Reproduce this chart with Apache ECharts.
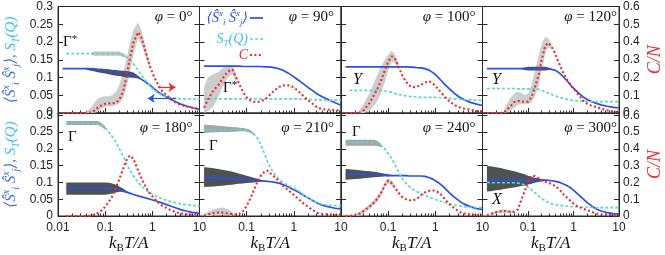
<!DOCTYPE html>
<html><head><meta charset="utf-8">
<script src="https://cdn.jsdelivr.net/npm/echarts@6/dist/echarts.min.js"></script>
<style>html,body{margin:0;padding:0;background:#fff}#c{width:665px;height:255px}</style>
</head><body><div id="c"></div>
<script>
// temperature grid k_B T / A
const T = [0.0125,0.015,0.02,0.025,0.03,0.04,0.05,0.06,0.07,0.085,0.1,0.12,0.14,0.17,0.2,0.24,0.28,0.33,0.4,0.5,0.6,0.75,0.9,1.1,1.3,1.6,2,2.5,3.2,4,5.5,7.5,10];
const phiLabels = [0, 90, 100, 120, 180, 210, 240, 300];

// ---- phi = 0
const blue0 = [0.125,0.125,0.125,0.125,0.125,0.125,0.125,0.124,0.123,0.122,0.121,0.119,0.118,0.116,0.114,0.112,0.110,0.108,0.105,0.100,0.094,0.086,0.078,0.068,0.060,0.052,0.045,0.038,0.031,0.025,0.019,0.014,0.010];
const cyan0 = [null,0.167,0.167,0.167,0.167,0.167,0.167,0.167,0.167,0.167,0.167,0.167,0.167,0.167,0.166,0.163,0.158,0.150,0.138,0.120,0.105,0.088,0.075,0.064,0.057,0.050,0.046,0.043,0.041,0.040,0.040,0.039,0.039];
const C0 = [0,0,0,0,0,0,0.003,0.015,0.03,0.045,0.052,0.054,0.054,0.058,0.075,0.12,0.2,0.3,0.4,0.455,0.42,0.33,0.26,0.2,0.165,0.125,0.1,0.078,0.058,0.046,0.035,0.028,0.024];
const blueBand0 = [[0.04,0.122,0.126],[0.05,0.119,0.126],[0.06,0.117,0.126],[0.07,0.115,0.125],[0.085,0.113,0.125],[0.1,0.111,0.124],[0.12,0.109,0.123],[0.14,0.107,0.122],[0.17,0.105,0.121],[0.2,0.104,0.120],[0.24,0.102,0.119],[0.28,0.101,0.118],[0.33,0.100,0.117],[0.4,0.099,0.114],[0.5,0.097,0.105],[0.6,0.093,0.095]];
const cyanBand0 = [[0.05,0.164,0.170],[0.06,0.161,0.173],[0.07,0.161,0.173],[0.085,0.161,0.173],[0.1,0.161,0.173],[0.12,0.161,0.173],[0.14,0.161,0.173],[0.17,0.161,0.173],[0.2,0.161,0.173],[0.24,0.158,0.168],[0.28,0.154,0.162]];
const CBand0 = [[0.04,0,0.01],[0.05,0,0.03],[0.06,0.002,0.06],[0.07,0.01,0.08],[0.085,0.025,0.09],[0.1,0.035,0.095],[0.12,0.04,0.095],[0.14,0.04,0.1],[0.17,0.045,0.12],[0.2,0.055,0.16],[0.24,0.08,0.23],[0.28,0.14,0.3],[0.33,0.22,0.39],[0.4,0.33,0.47],[0.5,0.42,0.51],[0.6,0.38,0.46],[0.75,0.3,0.35],[0.9,0.25,0.27]];

// ---- phi = 90
const blue1 = [0.132,0.132,0.132,0.132,0.132,0.132,0.132,0.132,0.132,0.131,0.131,0.131,0.131,0.131,0.131,0.130,0.130,0.129,0.127,0.124,0.120,0.113,0.106,0.098,0.091,0.082,0.072,0.063,0.053,0.046,0.037,0.029,0.022];
const cyan1 = [0.04,0.04,0.04,0.04,0.04,0.04,0.04,0.04,0.04,0.04,0.04,0.04,0.04,0.04,0.04,0.04,0.04,0.04,0.04,0.04,0.04,0.04,0.04,0.04,0.039,0.039,0.038,0.038,0.037,0.037,0.036,0.036,0.036];
const C1 = [0.03,0.075,0.13,0.156,0.19,0.235,0.245,0.2,0.16,0.115,0.088,0.07,0.063,0.062,0.066,0.075,0.09,0.11,0.13,0.148,0.155,0.156,0.15,0.135,0.118,0.095,0.072,0.052,0.03,0.022,0.018,0.016,0.015];
const CBand1 = [[0.0125,0,0.15],[0.015,0.01,0.2],[0.02,0.04,0.22],[0.025,0.09,0.23],[0.03,0.14,0.25],[0.04,0.2,0.27],[0.05,0.22,0.265],[0.06,0.17,0.22]];

// ---- phi = 100
const blue2 = [0.130,0.130,0.130,0.130,0.130,0.130,0.130,0.130,0.130,0.130,0.130,0.130,0.130,0.130,0.130,0.130,0.129,0.129,0.128,0.127,0.125,0.120,0.113,0.103,0.093,0.080,0.068,0.056,0.045,0.038,0.030,0.025,0.021];
const cyan2 = [null,0.064,0.064,0.064,0.064,0.064,0.064,0.064,0.063,0.062,0.060,0.058,0.055,0.052,0.050,0.048,0.047,0.046,0.045,0.044,0.044,0.044,0.044,0.044,0.043,0.042,0.041,0.040,0.039,0.038,0.037,0.036,0.035];
const C2 = [0,0,0,0.003,0.015,0.055,0.1,0.14,0.18,0.24,0.29,0.32,0.305,0.255,0.21,0.175,0.155,0.145,0.147,0.16,0.172,0.178,0.165,0.14,0.118,0.09,0.065,0.046,0.032,0.025,0.018,0.012,0.01];
const CBand2 = [[0.025,0,0.02],[0.03,0,0.05],[0.04,0.01,0.11],[0.05,0.04,0.17],[0.06,0.07,0.22],[0.07,0.11,0.26],[0.085,0.17,0.3],[0.1,0.24,0.33],[0.12,0.29,0.35],[0.14,0.28,0.33],[0.17,0.24,0.27]];

// ---- phi = 120
const blue3 = [0.125,0.125,0.125,0.125,0.125,0.125,0.125,0.125,0.125,0.125,0.125,0.125,0.125,0.125,0.125,0.125,0.125,0.123,0.120,0.112,0.102,0.088,0.076,0.065,0.056,0.046,0.038,0.032,0.027,0.023,0.019,0.016,0.014];
const cyan3 = [0.069,0.069,0.069,0.069,0.069,0.069,0.069,0.068,0.068,0.068,0.068,0.068,0.068,0.067,0.064,0.060,0.056,0.052,0.048,0.044,0.041,0.038,0.036,0.035,0.034,0.033,0.033,0.032,0.032,0.032,0.032,0.032,0.032];
const C3 = [0,0,0,0,0.005,0.035,0.062,0.068,0.066,0.063,0.064,0.09,0.14,0.21,0.3,0.38,0.395,0.375,0.33,0.27,0.225,0.18,0.152,0.125,0.1,0.072,0.052,0.04,0.033,0.025,0.015,0.008,0.005];
const blueBand3 = [[0.07,0.124,0.126],[0.085,0.121,0.128],[0.1,0.120,0.130],[0.12,0.120,0.130],[0.14,0.120,0.130],[0.17,0.120,0.130],[0.2,0.120,0.130],[0.24,0.120,0.130],[0.28,0.121,0.128],[0.33,0.122,0.124]];
const CBand3 = [[0.03,0,0.02],[0.04,0.01,0.08],[0.05,0.03,0.11],[0.06,0.045,0.12],[0.07,0.05,0.115],[0.085,0.05,0.1],[0.1,0.05,0.11],[0.12,0.06,0.16],[0.14,0.09,0.23],[0.17,0.15,0.32],[0.2,0.24,0.39],[0.24,0.34,0.43],[0.28,0.37,0.42],[0.33,0.36,0.39]];

// ---- phi = 180
const blue4 = [null,0.082,0.082,0.082,0.082,0.082,0.082,0.082,0.082,0.082,0.082,0.082,0.081,0.079,0.077,0.074,0.071,0.068,0.064,0.060,0.057,0.053,0.050,0.046,0.043,0.039,0.034,0.029,0.024,0.019,0.014,0.010,0.008];
const cyan4 = [null,0.277,0.277,0.277,0.277,0.277,0.277,0.276,0.274,0.270,0.262,0.250,0.237,0.220,0.200,0.178,0.158,0.138,0.118,0.100,0.088,0.076,0.069,0.062,0.057,0.051,0.047,0.043,0.039,0.036,0.033,0.031,0.030];
const C4 = [null,0,0,0,0,0,0.002,0.008,0.018,0.035,0.055,0.085,0.115,0.17,0.22,0.28,0.33,0.36,0.34,0.27,0.22,0.165,0.13,0.105,0.082,0.062,0.048,0.033,0.022,0.015,0.01,0.006,0.005];
const blueBand4 = [[0.015,0.063,0.100],[0.02,0.063,0.100],[0.025,0.063,0.100],[0.03,0.063,0.100],[0.04,0.063,0.100],[0.05,0.063,0.100],[0.06,0.063,0.100],[0.07,0.063,0.100],[0.085,0.063,0.100],[0.1,0.063,0.100],[0.12,0.065,0.099],[0.14,0.067,0.097],[0.17,0.070,0.093],[0.2,0.072,0.088],[0.24,0.072,0.082],[0.28,0.070,0.075],[0.33,0.0675,0.0685]];
const cyanBand4 = [[0.015,0.271,0.283],[0.02,0.271,0.283],[0.025,0.271,0.283],[0.03,0.271,0.283],[0.04,0.271,0.283],[0.05,0.271,0.283],[0.06,0.271,0.283],[0.07,0.271,0.283],[0.085,0.265,0.276],[0.1,0.257,0.267]];

// ---- phi = 210
const blue5 = [0.115,0.115,0.114,0.114,0.113,0.112,0.111,0.110,0.110,0.109,0.108,0.108,0.107,0.106,0.105,0.104,0.103,0.102,0.100,0.097,0.093,0.087,0.081,0.075,0.070,0.062,0.054,0.046,0.038,0.032,0.027,0.023,0.021];
const cyan5 = [0.257,0.257,0.257,0.257,0.257,0.257,0.257,0.257,0.257,0.257,0.255,0.252,0.245,0.232,0.212,0.185,0.160,0.140,0.122,0.108,0.099,0.091,0.085,0.079,0.073,0.063,0.053,0.045,0.039,0.035,0.032,0.031,0.030];
const C5 = [0.003,0.01,0.018,0.021,0.02,0.015,0.01,0.009,0.012,0.03,0.06,0.105,0.15,0.205,0.24,0.265,0.27,0.25,0.23,0.2,0.178,0.155,0.136,0.115,0.097,0.075,0.055,0.035,0.018,0.012,0.008,0.006,0.005];
const blueBand5 = [[0.0125,0.086,0.145],[0.015,0.087,0.144],[0.02,0.088,0.142],[0.025,0.089,0.140],[0.03,0.090,0.138],[0.04,0.092,0.135],[0.05,0.093,0.132],[0.06,0.095,0.129],[0.07,0.096,0.126],[0.085,0.097,0.123],[0.1,0.098,0.120],[0.12,0.099,0.117],[0.14,0.100,0.114],[0.17,0.101,0.111],[0.2,0.102,0.108],[0.24,0.103,0.105]];
const cyanBand5 = [[0.0125,0.248,0.272],[0.015,0.248,0.271],[0.02,0.249,0.270],[0.025,0.249,0.269],[0.03,0.250,0.268],[0.04,0.250,0.266],[0.05,0.251,0.265],[0.06,0.251,0.264],[0.07,0.252,0.263],[0.085,0.252,0.262],[0.1,0.251,0.260],[0.12,0.248,0.256],[0.14,0.242,0.248]];
const CBand5 = [[0.0125,0,0.01],[0.015,0,0.025],[0.02,0.005,0.04],[0.025,0.008,0.048],[0.03,0.008,0.05],[0.04,0.005,0.04],[0.05,0.002,0.025]];

// ---- phi = 240
const blue6 = [0.125,0.125,0.124,0.124,0.123,0.123,0.122,0.122,0.121,0.121,0.120,0.120,0.120,0.120,0.120,0.120,0.119,0.119,0.119,0.119,0.118,0.114,0.109,0.101,0.094,0.082,0.069,0.057,0.045,0.036,0.028,0.022,0.020];
const cyan6 = [0.218,0.218,0.218,0.218,0.218,0.218,0.218,0.215,0.210,0.200,0.186,0.170,0.152,0.128,0.110,0.097,0.088,0.080,0.073,0.067,0.062,0.056,0.052,0.047,0.044,0.040,0.036,0.033,0.030,0.028,0.026,0.025,0.025];
const C6 = [0,0.001,0.005,0.015,0.03,0.055,0.08,0.105,0.135,0.185,0.21,0.195,0.168,0.135,0.113,0.1,0.094,0.093,0.1,0.125,0.14,0.15,0.152,0.145,0.13,0.1,0.07,0.048,0.025,0.015,0.008,0.005,0.004];
const blueBand6 = [[0.0125,0.108,0.140],[0.015,0.109,0.139],[0.02,0.110,0.138],[0.025,0.111,0.136],[0.03,0.112,0.135],[0.04,0.114,0.133],[0.05,0.115,0.132],[0.06,0.116,0.130],[0.07,0.117,0.128],[0.085,0.118,0.126],[0.1,0.118,0.124],[0.12,0.119,0.122],[0.14,0.1195,0.1205]];
const cyanBand6 = [[0.0125,0.209,0.227],[0.015,0.209,0.227],[0.02,0.209,0.227],[0.025,0.209,0.227],[0.03,0.209,0.227],[0.04,0.209,0.227],[0.05,0.209,0.227],[0.06,0.208,0.223],[0.07,0.205,0.215]];
const CBand6 = [[0.02,0,0.012],[0.025,0.005,0.025],[0.03,0.018,0.042],[0.04,0.042,0.068],[0.05,0.066,0.094],[0.06,0.09,0.12],[0.07,0.12,0.15],[0.085,0.17,0.2],[0.1,0.195,0.225],[0.12,0.18,0.21],[0.14,0.155,0.18]];

// ---- phi = 300
const blue7 = [0.107,0.107,0.107,0.107,0.107,0.107,0.107,0.107,0.107,0.107,0.107,0.107,0.107,0.107,0.107,0.107,0.106,0.105,0.103,0.100,0.095,0.089,0.082,0.072,0.063,0.052,0.040,0.030,0.021,0.015,0.010,0.007,0.006];
const cyan7 = [0.100,0.099,0.099,0.099,0.099,0.099,0.099,0.098,0.096,0.092,0.086,0.078,0.070,0.060,0.052,0.045,0.040,0.036,0.034,0.032,0.030,0.029,0.028,0.027,0.027,0.026,0.026,0.026,0.025,0.025,0.025,0.025,0.025];
const C7 = [0.005,0.012,0.022,0.028,0.03,0.025,0.025,0.04,0.09,0.15,0.205,0.24,0.238,0.225,0.212,0.203,0.198,0.19,0.178,0.155,0.13,0.105,0.085,0.065,0.055,0.044,0.034,0.024,0.015,0.01,0.007,0.005,0.005];
const blueBand7 = [[0.0125,0.073,0.149],[0.015,0.074,0.148],[0.02,0.077,0.145],[0.025,0.078,0.143],[0.03,0.080,0.140],[0.04,0.083,0.136],[0.05,0.085,0.133],[0.06,0.087,0.130],[0.07,0.089,0.127],[0.085,0.091,0.124],[0.1,0.094,0.120],[0.12,0.096,0.117],[0.14,0.099,0.114],[0.17,0.101,0.112],[0.2,0.103,0.110],[0.24,0.105,0.108],[0.28,0.1055,0.1075]];
const CBand7 = [[0.015,0.005,0.02],[0.02,0.012,0.032],[0.025,0.018,0.038],[0.03,0.02,0.04],[0.04,0.016,0.034],[0.05,0.016,0.034]];

// ---------------------------------------------------------------
const BLUE='#2b50e8', CYAN='#5ed8c6', RED='#ec2a2a', LGREY='#cdcdcd', DGREY='#4d5252', CGREY='#a2a6a6';
const TBLUE='#3f6fe4', TCYAN='#3cc2ee';
const SERIF='"Liberation Serif", "DejaVu Serif", serif';
const SANS='"Liberation Sans", Arial, sans-serif';

const panels = [
  {blue:blue0, cyan:cyan0, C:C0, bb:blueBand0, cb:cyanBand0, Cb:CBand0, cbColor:'#c4c4c4'},
  {blue:blue1, cyan:cyan1, C:C1, bb:null, cb:null, Cb:CBand1},
  {blue:blue2, cyan:cyan2, C:C2, bb:null, cb:null, Cb:CBand2},
  {blue:blue3, cyan:cyan3, C:C3, bb:blueBand3, cb:null, Cb:CBand3},
  {blue:blue4, cyan:cyan4, C:C4, bb:blueBand4, cb:cyanBand4, Cb:null, cbColor:CGREY},
  {blue:blue5, cyan:cyan5, C:C5, bb:blueBand5, cb:cyanBand5, Cb:CBand5, cbColor:CGREY},
  {blue:blue6, cyan:cyan6, C:C6, bb:blueBand6, cb:cyanBand6, Cb:CBand6, cbColor:CGREY},
  {blue:blue7, cyan:cyan7, C:C7, bb:blueBand7, cb:null, Cb:CBand7}
];

function pts(arr){ const o=[]; arr.forEach((v,i)=>{ if(v!=null) o.push([T[i],v]); }); return o; }

const grids=[], xAxes=[], yAxes=[], series=[], graphics=[];
const LEFT0=58, PW=141.5;
const rows=[{top:6.5,h:106.5},{top:113,h:104.5}];

const yNameRich = {
  b:{fontFamily:SERIF,fontStyle:'italic',fontSize:15,color:TBLUE,lineHeight:20},
  bp:{fontFamily:SERIF,fontStyle:'italic',fontSize:10,color:TBLUE,verticalAlign:'top',lineHeight:10},
  bb:{fontFamily:SERIF,fontStyle:'italic',fontSize:10,color:TBLUE,verticalAlign:'bottom',lineHeight:10},
  c:{fontFamily:SERIF,fontStyle:'italic',fontSize:15,color:TCYAN,lineHeight:20},
  cb:{fontFamily:SERIF,fontStyle:'italic',fontSize:10,color:TCYAN,verticalAlign:'bottom',lineHeight:10}
};
const yName = '{b|⟨Ŝ}{bp|x}{bb|i}{b| Ŝ}{bp|x}{bb|j}{b|⟩, }{c|S}{cb|T}{c|(Q)}';

function bandSeries(p, tri, yi, color){
  return {type:'custom', xAxisIndex:p, yAxisIndex:yi, data:tri, silent:true, z:2, clip:true,
    encode:{x:0, y:[1,2]},
    renderItem:(params, api)=>{
      if(params.dataIndex!==0) return null;
      const up = tri.map(d=>api.coord([d[0], d[2]]));
      const lo = tri.map(d=>api.coord([d[0], d[1]])).reverse();
      return {type:'polygon', shape:{points:up.concat(lo)}, style:{fill:color, stroke:null}};
    }};
}

for(let p=0;p<8;p++){
  const r=Math.floor(p/4), c=p%4;
  const left=LEFT0+PW*c;
  grids.push({left:left, top:rows[r].top, width:PW, height:rows[r].h, show:true, borderColor:'#2a2a2a', borderWidth:1, containLabel:false});
  xAxes.push({
    gridIndex:p, type:'log', logBase:10, min:0.01, max:10,
    axisLine:{show:true,lineStyle:{color:'#2a2a2a',width:1}},
    axisTick:{show:true,inside:true,length:5,lineStyle:{color:'#2a2a2a'}},
    minorTick:{show:true,splitNumber:9,length:2.5,lineStyle:{color:'#2a2a2a'}},
    splitLine:{show:false}, minorSplitLine:{show:false},
    axisLabel:{show:r===1, showMinLabel:c===0, showMaxLabel:true, fontFamily:SANS, fontSize:12, color:'#222', margin:6},
    name: r===1 ? '{i|k}{s|B}{i|T/A}' : '',
    nameLocation:'middle', nameGap:18,
    nameTextStyle:{rich:{
      i:{fontFamily:SERIF,fontStyle:'italic',fontSize:17,color:'#111',lineHeight:20},
      s:{fontFamily:SERIF,fontSize:11,color:'#111',verticalAlign:'bottom',lineHeight:11}
    }}
  });
  const lmax = r===0 ? 0.3 : 0.3066;
  yAxes.push({
    gridIndex:p, type:'value', position:'left', min:0, max:lmax, interval:0.05,
    axisLine:{show:true,lineStyle:{color:'#2a2a2a'}},
    axisTick:{show:true,inside:true,length:5,lineStyle:{color:'#2a2a2a'}},
    splitLine:{show:false},
    axisLabel:{show:c===0, fontFamily:SANS, fontSize:12, color:'#222', margin:5,
      formatter:v=> (v>lmax-0.004 && r===1) ? '' : String(+(+v).toFixed(2))},
    name: c===0 ? yName : '', nameLocation:'middle', nameRotate:90, nameGap:37,
    nameTextStyle:{rich:yNameRich}
  });
  const rmax = r===0 ? 0.6 : 0.6133;
  yAxes.push({
    gridIndex:p, type:'value', position:'right', min:0, max:rmax, interval:0.1,
    axisLine:{show:true,lineStyle:{color:'#2a2a2a'}},
    axisTick:{show:true,inside:true,length:5,lineStyle:{color:'#2a2a2a'}},
    splitLine:{show:false},
    axisLabel:{show:c===3, fontFamily:SANS, fontSize:12, color:'#222', margin:4,
      formatter:v=> (v>rmax-0.008 && r===1) ? '' : String(+(+v).toFixed(1))},
    name: c===3 ? '{i|C/N}' : '', nameLocation:'middle', nameRotate:90, nameGap:27,
    nameTextStyle:{rich:{i:{fontFamily:SERIF,fontStyle:'italic',fontSize:18,color:RED}}}
  });

  const P=panels[p], yl=2*p, yr=2*p+1;
  if(P.Cb) series.push(bandSeries(p, P.Cb, yr, LGREY));
  if(P.cb) series.push(bandSeries(p, P.cb, yl, P.cbColor));
  if(P.bb) series.push(bandSeries(p, P.bb, yl, DGREY));

  const blueS = {name:'blue', type:'line', xAxisIndex:p, yAxisIndex:yl, data:pts(P.blue), symbol:'none', showSymbol:false,
    lineStyle:{color:BLUE,width:1.7}, itemStyle:{color:BLUE}, z:3};
  const cyanS = {name:'cyan', type:'line', xAxisIndex:p, yAxisIndex:yl, data:pts(P.cyan), symbol:'none', showSymbol:false,
    lineStyle:{color:CYAN,width:1.7,type:[3,2]}, itemStyle:{color:CYAN}, z:3};
  const redS = {name:'red', type:'line', xAxisIndex:p, yAxisIndex:yr, data:pts(P.C), symbol:'none', showSymbol:false,
    lineStyle:{color:RED,width:2.1,type:[2,2.4]}, itemStyle:{color:RED}, z:4};
  if(p===0){
    redS.markLine={silent:true, symbol:['none','arrow'], symbolSize:7, label:{show:false}, animation:false,
      lineStyle:{color:RED,type:'solid',width:1.2}, data:[[{coord:[1.3,0.145]},{coord:[3.1,0.145]}]]};
    blueS.markLine={silent:true, symbol:['none','arrow'], symbolSize:7, label:{show:false}, animation:false,
      lineStyle:{color:BLUE,type:'solid',width:1.2}, data:[[{coord:[3.2,0.041]},{coord:[0.8,0.041]}]]};
  }
  series.push(blueS, cyanS, redS);

  graphics.push({type:'text', x:left+PW-7, y:(r===0?17:128), z:50,
    style:{text:'{i|φ} = '+phiLabels[p]+'°', align:'right', verticalAlign:'middle', fill:'#111',
      font:'15px '+SERIF, rich:{i:{fontStyle:'italic',fontFamily:SERIF,fontSize:15,fill:'#111'}}}});
}

// point labels
const pointLabels = [
  ['{r|Γ}{s|*}', 63, 42], ['{r|Γ}{s|*}', 223, 88], ['{i|Y}', 353, 80], ['{i|Y}', 492, 80],
  ['{r|Γ}', 68, 137], ['{r|Γ}', 209, 146], ['{r|Γ}', 352, 132], ['{i|X}', 492, 200]
];
pointLabels.forEach(l=>{
  graphics.push({type:'text', x:l[1], y:l[2], z:50, style:{text:l[0], align:'left', verticalAlign:'middle', fill:'#111',
    font:'15px '+SERIF,
    rich:{r:{fontFamily:SERIF,fontSize:15,fill:'#111',lineHeight:16},
          i:{fontFamily:SERIF,fontStyle:'italic',fontSize:16,fill:'#111',lineHeight:16},
          s:{fontFamily:SERIF,fontSize:11,fill:'#111',verticalAlign:'top',lineHeight:9}}}});
});

// legend (inside panel 2): text right-aligned, key sample to the right
const legRich = {
  b:{fontFamily:SERIF,fontStyle:'italic',fontSize:14,fill:BLUE,lineHeight:18},
  bp:{fontFamily:SERIF,fontStyle:'italic',fontSize:9,fill:BLUE,verticalAlign:'top',lineHeight:9},
  bb:{fontFamily:SERIF,fontStyle:'italic',fontSize:9,fill:BLUE,verticalAlign:'bottom',lineHeight:9},
  c:{fontFamily:SERIF,fontStyle:'italic',fontSize:14,fill:TCYAN,lineHeight:18},
  cb:{fontFamily:SERIF,fontStyle:'italic',fontSize:9,fill:TCYAN,verticalAlign:'bottom',lineHeight:9},
  r:{fontFamily:SERIF,fontStyle:'italic',fontSize:14,fill:RED,lineHeight:18}
};
const legendItems = [
  ['{b|⟨Ŝ}{bp|x}{bb|i}{b| Ŝ}{bp|x}{bb|j}{b|⟩}', 18, BLUE, null, 1.7],
  ['{c|S}{cb|T}{c|(Q)}', 39, CYAN, [3,2], 1.7],
  ['{r|C}', 55, RED, [2,2.4], 2.1]
];
legendItems.forEach(it=>{
  graphics.push({type:'text', x:248, y:it[1], z:60, style:{text:it[0], align:'right', verticalAlign:'middle', rich:legRich, font:'14px '+SERIF}});
  graphics.push({type:'line', z:60, shape:{x1:250, y1:it[1], x2:263, y2:it[1]}, style:{stroke:it[2], lineWidth:it[4], lineDash:it[3]}});
});

const chart = echarts.init(document.getElementById('c'), null, {renderer:'canvas'});
chart.setOption({
  animation:false,
  backgroundColor:'#fff',
  grid:grids, xAxis:xAxes, yAxis:yAxes, series:series,
  graphic:graphics
});
</script></body></html>
